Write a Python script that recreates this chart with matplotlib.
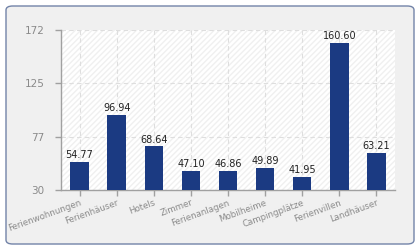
import matplotlib
matplotlib.use("Agg")
import matplotlib.pyplot as plt
from matplotlib.patches import FancyBboxPatch, Rectangle
import numpy as np

# data
categories = ["Ferienwohnungen", "Ferienhäuser", "Hotels", "Zimmer", "Ferienanlagen",
              "Mobilheime", "Campingplätze", "Ferienvillen", "Landhäuser"]
values = [54.77, 96.94, 68.64, 47.10, 46.86, 49.89, 41.95, 160.60, 63.21]
y_ticks = [30, 77, 125, 172]

bar_color = "#1b3a82"
grid_color = "#dedede"
axis_color = "#a0a0a0"
tick_text = "#8a8a8a"

fig = plt.figure(figsize=(4.2, 2.5), dpi=100)
fig.patch.set_facecolor("white")

# outer rounded panel (behind the axes)
panel = FancyBboxPatch((6 / 420, 6 / 250), 408 / 420, 238 / 250,
                       boxstyle="round,pad=0,rounding_size=0.016",
                       transform=fig.transFigure, facecolor="#f0f0f0",
                       edgecolor="#7283a8", linewidth=1.0, zorder=-1)
fig.patches.append(panel)

ax = fig.add_axes([61 / 420, 60 / 250, 334 / 420, 160 / 250])
ax.set_facecolor("white")
ax.add_patch(Rectangle((0, 0), 1, 1, transform=ax.transAxes, facecolor="white",
                       edgecolor="#f0f0f0", hatch="//////", linewidth=0, zorder=0))

x = np.arange(len(categories))
ax.bar(x, np.array(values) - y_ticks[0], bottom=y_ticks[0], width=0.5,
       color=bar_color, zorder=3)

for xi, v in zip(x, values):
    ax.text(xi, v + 1.5, f"{v:.2f}", ha="center", va="bottom", fontsize=7,
            color="#222222", zorder=4)

ax.set_xlim(-0.5, 8.5)
ax.set_ylim(30, 172)
ax.set_yticks(y_ticks)
ax.set_yticklabels([str(t) for t in y_ticks], fontsize=7.5, color=tick_text)
ax.set_xticks(x)
ax.set_xticklabels(categories, rotation=20, ha="right", fontsize=6.2,
                   color=tick_text, rotation_mode="anchor")

ax.grid(True, linestyle=(0, (4, 3)), color=grid_color, linewidth=0.8, zorder=1)
ax.set_axisbelow(True)

for s in ["top", "right"]:
    ax.spines[s].set_visible(False)
for s in ["left", "bottom"]:
    ax.spines[s].set_color(axis_color)
    ax.spines[s].set_linewidth(1.0)
ax.tick_params(axis="both", colors=axis_color, length=4, width=1.0)
ax.tick_params(axis="y", labelcolor=tick_text, pad=8)
ax.tick_params(axis="x", labelcolor=tick_text, pad=2)

plt.savefig("out.png", dpi=100)
plt.close()
